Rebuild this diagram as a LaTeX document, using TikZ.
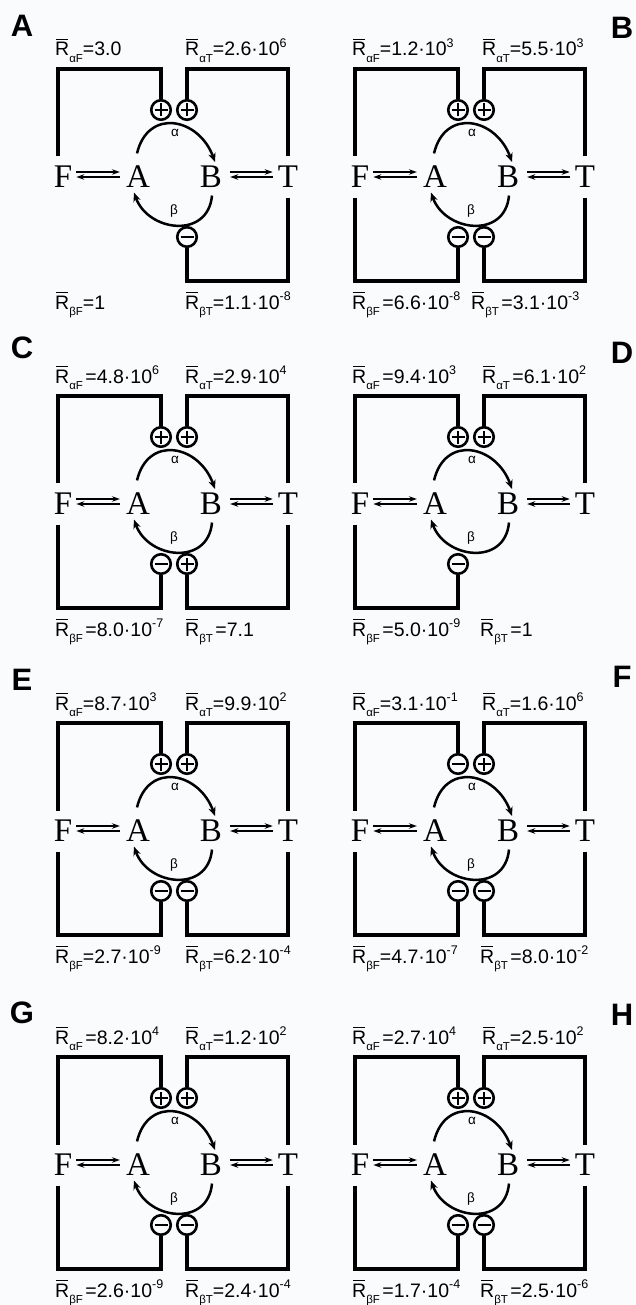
\documentclass[tikz,border=0pt]{standalone}
\usepackage{fontspec}
\setmainfont{Liberation Sans}
\newfontfamily\serf{Liberation Serif}
\usetikzlibrary{arrows.meta}
\definecolor{bg}{HTML}{FAFBFD}

\newcommand\Rbar{\makebox[0pt][l]{\hspace{0.04em}\rule[0.8em]{0.64em}{0.08em}}R}
\newcommand\sbs[1]{\raisebox{-0.32em}{\fontsize{11.5}{11.5}\selectfont #1}}
\newcommand\sps[1]{\raisebox{0.45em}{\fontsize{12.5}{12.5}\selectfont #1}}
\newcommand\lab[2]{\Rbar\sbs{#1}#2}
\newcommand\tp[1]{10\sps{#1}}
\newcommand\gp{\kern2.5pt}

\tikzset{
  lbl/.style={anchor=base west, inner sep=0pt, font=\fontsize{19.5}{19.5}\selectfont},
  let/.style={font=\fontsize{33}{33}\serf, inner sep=0pt},
  pan/.style={font=\fontsize{31}{31}\selectfont\bfseries, inner sep=0pt},
  wire/.style={line width=3.1pt, line join=miter},
  sgn/.style={circle, draw, line width=2.6pt, minimum size=19.5pt, inner sep=0pt},
  plus/.style={sgn, path picture={\draw[line width=2pt]
      ([xshift=-6.5pt]path picture bounding box.center) -- ([xshift=6.5pt]path picture bounding box.center)
      ([yshift=-6.5pt]path picture bounding box.center) -- ([yshift=6.5pt]path picture bounding box.center);}},
  minus/.style={sgn, path picture={\draw[line width=2pt]
      ([xshift=-6.5pt]path picture bounding box.center) -- ([xshift=6.5pt]path picture bounding box.center);}},
  arcw/.style={line width=2.5pt, -{Stealth[length=9pt,width=7.5pt]}},
  eqa/.style={line width=1.5pt, -{Stealth[length=8pt,width=5.5pt]}},
  gr/.style={font=\fontsize{13.5}{13.5}\selectfont, inner sep=0pt},
}

% core of one panel (inside a shifted scope)
\newcommand\core[1]{%
  \node[let] (#1F) at (5,-108) {F};
  \node[let] (#1A) at (80,-108) {A};
  \node[let] (#1B) at (153,-108) {B};
  \node[let] (#1T) at (230,-108) {T};
  \coordinate (#1tl) at (0,0);
  \coordinate (#1tr) at (230,0);
  \coordinate (#1bl) at (0,-212);
  \coordinate (#1br) at (230,-212);
  \draw[eqa] ([xshift=4pt,yshift=5pt]#1F.east) -- ([xshift=-6pt,yshift=5pt]#1A.west);
  \draw[eqa] ([xshift=-6pt]#1A.west) -- ([xshift=4pt]#1F.east);
  \draw[eqa] ([xshift=8pt,yshift=5pt]#1B.east) -- ([xshift=-5pt,yshift=5pt]#1T.west);
  \draw[eqa] ([xshift=-5pt]#1T.west) -- ([xshift=8pt]#1B.east);
  \draw[arcw] ([xshift=-1pt,yshift=12.5pt]#1A.north) .. controls +(11,46) and +(-16,44) .. ([xshift=4pt,yshift=4pt]#1B.north);
  \draw[arcw] ([xshift=1pt,yshift=-7.5pt]#1B.south) .. controls +(-4,-44) and +(14,-39) .. ([xshift=-4pt,yshift=-4.5pt]#1A.south);
  \node[gr] (#1al) at (117,-64) {α};
  \node[gr] (#1be) at (116,-142) {β};
}
\newcommand\TL[2]{\node[#2] (#1cTL) at (103,-41) {};
  \draw[wire] ([xshift=-5pt,yshift=9.5pt]#1F.north) -- (#1tl) -| (#1cTL);}
\newcommand\TR[2]{\node[#2] (#1cTR) at (129,-41) {};
  \draw[wire] ([yshift=9.5pt]#1T.north) -- (#1tr) -| (#1cTR);}
\newcommand\BL[2]{\node[#2] (#1cBL) at (103,-168) {};
  \draw[wire] ([xshift=-5pt,yshift=-9.5pt]#1F.south) -- (#1bl) -| (#1cBL);}
\newcommand\BR[2]{\node[#2] (#1cBR) at (129,-168) {};
  \draw[wire] ([yshift=-9.5pt]#1T.south) -- (#1br) -| (#1cBR);}
\newcommand\labs[6]{% id, TL text, TR text, BL text, BR text, BR x
  \node[lbl] (#1lTL) at (-3,13) {#2};
  \node[lbl] (#1lTR) at (127,13) {#3};
  \node[lbl] (#1lBL) at (-3,-240) {#4};
  \node[lbl] (#1lBR) at (#6,-240) {#5};
}

\begin{document}
\begin{tikzpicture}[x=1pt,y=1pt]
\fill[bg] (0,0) rectangle (635,-1305);
\useasboundingbox (0,0) rectangle (635,-1305);

% ---------- A ----------
\node[pan] (labA) at (22,-26) {A};
\begin{scope}[shift={(58,-69)}]
  \core{a}
  \TL{a}{plus}\TR{a}{plus}\BR{a}{minus}
  \labs{a}{\lab{αF}{=3.0}}{\lab{αT}{=2.6·\tp{6}}}{\lab{βF}{=1}}{\lab{βT}{=1.1·\tp{-8}}}{127}
\end{scope}

% ---------- B ----------
\node[pan] (labB) at (622,-28) {B};
\begin{scope}[shift={(355,-69)}]
  \core{b}
  \TL{b}{plus}\TR{b}{plus}\BL{b}{minus}\BR{b}{minus}
  \labs{b}{\lab{αF}{=1.2·\tp{3}}}{\lab{αT}{=5.5·\tp{3}}}{\lab{βF}{\gp=6.6·\tp{-8}}}{\lab{βT}{\gp=3.1·\tp{-3}}}{116}
\end{scope}

% ---------- C ----------
\node[pan] (labC) at (22,-348) {C};
\begin{scope}[shift={(58,-396)}]
  \core{c}
  \TL{c}{plus}\TR{c}{plus}\BL{c}{minus}\BR{c}{plus}
  \labs{c}{\lab{αF}{\gp=4.8·\tp{6}}}{\lab{αT}{=2.9·\tp{4}}}{\lab{βF}{\gp=8.0·\tp{-7}}}{\lab{βT}{\gp=7.1}}{127}
\end{scope}

% ---------- D ----------
\node[pan] (labD) at (622,-353) {D};
\begin{scope}[shift={(355,-396)}]
  \core{d}
  \TL{d}{plus}\TR{d}{plus}\BL{d}{minus}
  \labs{d}{\lab{αF}{\gp=9.4·\tp{3}}}{\lab{αT}{\gp=6.1·\tp{2}}}{\lab{βF}{\gp=5.0·\tp{-9}}}{\lab{βT}{\gp=1}}{125}
\end{scope}

% ---------- E ----------
\node[pan] (labE) at (22,-680) {E};
\begin{scope}[shift={(58,-723)}]
  \core{e}
  \TL{e}{plus}\TR{e}{plus}\BL{e}{minus}\BR{e}{minus}
  \labs{e}{\lab{αF}{=8.7·\tp{3}}}{\lab{αT}{=9.9·\tp{2}}}{\lab{βF}{=2.7·\tp{-9}}}{\lab{βT}{=6.2·\tp{-4}}}{127}
\end{scope}

% ---------- F ----------
\node[pan] (labF) at (622,-677) {F};
\begin{scope}[shift={(355,-723)}]
  \core{f}
  \TL{f}{minus}\TR{f}{plus}\BL{f}{minus}\BR{f}{minus}
  \labs{f}{\lab{αF}{=3.1·\tp{-1}}}{\lab{αT}{=1.6·\tp{6}}}{\lab{βF}{=4.7·\tp{-7}}}{\lab{βT}{\gp=8.0·\tp{-2}}}{125}
\end{scope}

% ---------- G ----------
\node[pan] (labG) at (22,-1013) {G};
\begin{scope}[shift={(58,-1057)}]
  \core{g}
  \TL{g}{plus}\TR{g}{plus}\BL{g}{minus}\BR{g}{minus}
  \labs{g}{\lab{αF}{\gp=8.2·\tp{4}}}{\lab{αT}{=1.2·\tp{2}}}{\lab{βF}{\gp=2.6·\tp{-9}}}{\lab{βT}{=2.4·\tp{-4}}}{127}
\end{scope}

% ---------- H ----------
\node[pan] (labH) at (622,-1015) {H};
\begin{scope}[shift={(355,-1057)}]
  \core{h}
  \TL{h}{plus}\TR{h}{plus}\BL{h}{minus}\BR{h}{minus}
  \labs{h}{\lab{αF}{\gp=2.7·\tp{4}}}{\lab{αT}{=2.5·\tp{2}}}{\lab{βF}{\gp=1.7·\tp{-4}}}{\lab{βT}{\gp=2.5·\tp{-6}}}{125}
\end{scope}
\end{tikzpicture}
\end{document}
